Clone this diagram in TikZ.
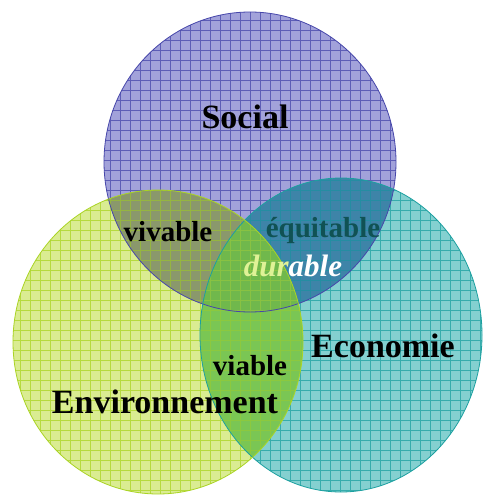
\documentclass[tikz,border=0pt]{standalone}
\usepackage{fontspec}
\setmainfont{Liberation Serif}
\definecolor{socfill}{RGB}{162,162,218}
\definecolor{socline}{RGB}{70,70,170}
\definecolor{envfill}{RGB}{218,236,146}
\definecolor{envline}{RGB}{170,212,36}
\definecolor{ecofill}{RGB}{132,208,208}
\definecolor{ecoline}{RGB}{28,160,160}
\definecolor{se}{RGB}{138,152,108}
\definecolor{sc}{RGB}{62,132,168}
\definecolor{ec}{RGB}{122,198,84}
\definecolor{sec}{RGB}{112,184,76}
\definecolor{equit}{RGB}{16,82,84}
\definecolor{durlight}{RGB}{224,242,150}
\tikzset{
  soc/.style={insert path={(250,162) ellipse [x radius=146pt, y radius=150pt]}},
  eco/.style={insert path={(341,335) ellipse [x radius=141pt, y radius=157pt]}},
  env/.style={insert path={(158,342) ellipse [x radius=145pt, y radius=152pt]}},
  gridln/.style={line width=0.55pt, draw opacity=0.75},
  bigtxt/.style={font=\fontsize{34}{40}\selectfont\bfseries, anchor=base, inner sep=0pt},
  smalltxt/.style={font=\fontsize{29}{34}\selectfont\bfseries, anchor=base, inner sep=0pt},
}
\begin{document}
\begin{tikzpicture}[x=1pt,y=-1pt]
\useasboundingbox (0,0) rectangle (482,497);
\fill[white] (0,0) rectangle (482,497);
% single fills
\fill[socfill, soc];
\fill[ecofill, eco];
\fill[envfill, env];
% pair overlaps
\begin{scope}\clip[soc]; \fill[se, env]; \end{scope}
\begin{scope}\clip[soc]; \fill[sc, eco]; \end{scope}
\begin{scope}\clip[env]; \fill[ec, eco]; \end{scope}
\begin{scope}\clip[soc]; \clip[env]; \fill[sec, eco]; \end{scope}
% grids
\begin{scope}\clip[soc];
  \draw[socline, gridln] (0,0) grid[step=10pt] (482,497);
\end{scope}
\begin{scope}\clip[eco];
  \draw[ecoline, gridln] (0,0) grid[step=10pt] (482,497);
\end{scope}
\begin{scope}\clip[env];
  \draw[envline, gridln] (0,0) grid[step=10pt] (482,497);
\end{scope}
% outlines
\draw[socline, line width=0.8pt, soc];
\draw[ecoline, line width=0.8pt, eco];
\draw[envline, line width=0.8pt, env];
% texts
\node[bigtxt] (social) at (245,129) {Social};
\node[bigtxt] (economie) at (383,357) {Economie};
\node[bigtxt] (environnement) at (165,413) {Environnement};
\node[smalltxt] (vivable) at (168,241) {vivable};
\node[smalltxt, text=equit] (equitable) at (323,237) {équitable};
\node[smalltxt] (viable) at (250,375) {viable};
\node[font=\fontsize{31}{36}\selectfont\bfseries\itshape, anchor=base, inner sep=0pt] (durable) at (293,276) {\textcolor{durlight}{dur}\textcolor{white}{able}};
\end{tikzpicture}
\end{document}
